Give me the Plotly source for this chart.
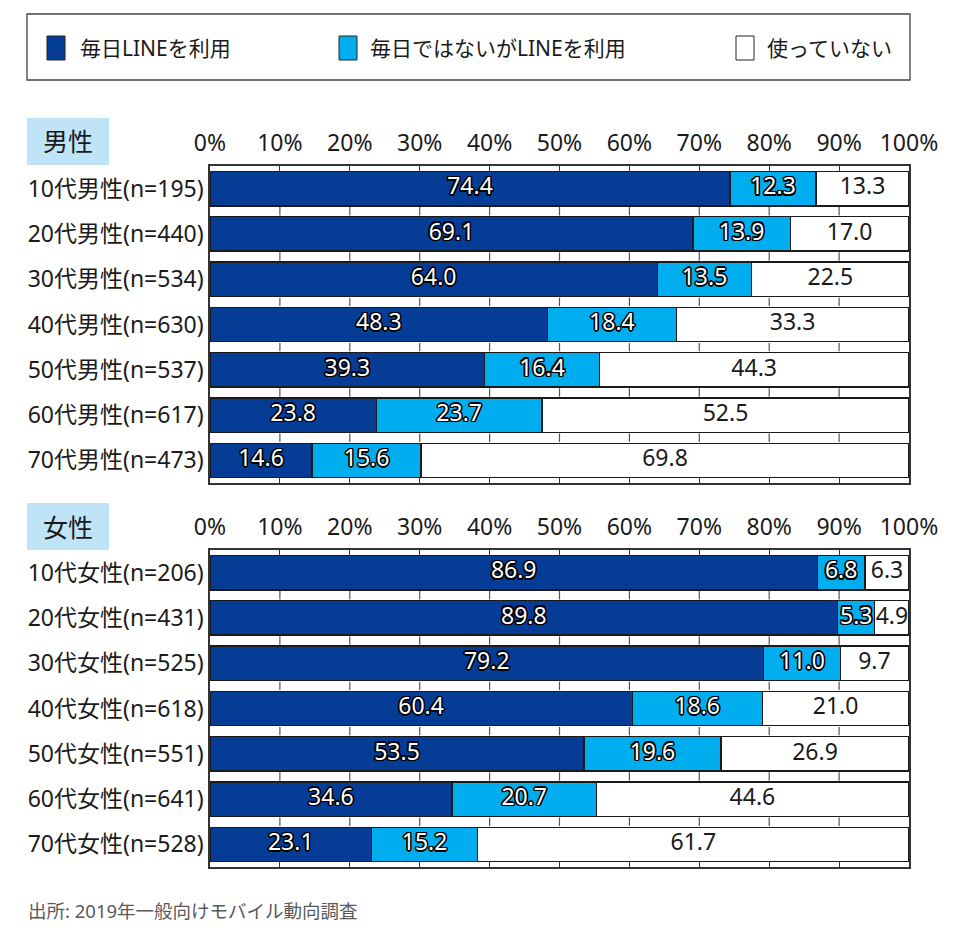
import plotly.graph_objects as go

# ---------------- data ----------------
series_names = ["毎日LINEを利用", "毎日ではないがLINEを利用", "使っていない"]
male_labels = ["10代男性(n=195)", "20代男性(n=440)", "30代男性(n=534)", "40代男性(n=630)",
               "50代男性(n=537)", "60代男性(n=617)", "70代男性(n=473)"]
male_daily = [74.4, 69.1, 64.0, 48.3, 39.3, 23.8, 14.6]
male_notdaily = [12.3, 13.9, 13.5, 18.4, 16.4, 23.7, 15.6]
male_none = [13.3, 17.0, 22.5, 33.3, 44.3, 52.5, 69.8]

female_labels = ["10代女性(n=206)", "20代女性(n=431)", "30代女性(n=525)", "40代女性(n=618)",
                 "50代女性(n=551)", "60代女性(n=641)", "70代女性(n=528)"]
female_daily = [86.9, 89.8, 79.2, 60.4, 53.5, 34.6, 23.1]
female_notdaily = [6.8, 5.3, 11.0, 18.6, 19.6, 20.7, 15.2]
female_none = [6.3, 4.9, 9.7, 21.0, 26.9, 44.6, 61.7]

x_ticks = [0, 10, 20, 30, 40, 50, 60, 70, 80, 90, 100]
panel_titles = ["男性", "女性"]
source_text = "出所: 2019年一般向けモバイル動向調査"

# ---------------- style ----------------
W, H = 960, 931
OFF = 8  # page body margin compensation
FONT = "Noto Sans, Noto Sans CJK JP, sans-serif"
C_DARK = "#043c96"
C_LIGHT = "#00aeef"
C_WHITE = "#ffffff"
colors = [C_DARK, C_LIGHT, C_WHITE]
OUTLINE = ("-1.2px -1.2px 0 #000, 1.2px -1.2px 0 #000, -1.2px 1.2px 0 #000, 1.2px 1.2px 0 #000,"
           " 0 -1.6px 0 #000, 0 1.6px 0 #000, -1.6px 0 0 #000, 1.6px 0 0 #000")

def px_x(p):
    return (p - OFF) / W

def px_y(p):
    return 1 - (p - OFF) / H

fig = go.Figure()

panels = [
    ("x", "y", male_labels, [male_daily, male_notdaily, male_none]),
    ("x2", "y2", female_labels, [female_daily, female_notdaily, female_none]),
]

for xa, ya, labels, vals in panels:
    idx = list(range(len(labels)))
    for s, (name, col, v) in enumerate(zip(series_names, colors, vals)):
        fig.add_trace(go.Bar(
            x=v, y=idx, orientation="h", name=name, xaxis=xa, yaxis=ya,
            marker=dict(color=col, line=dict(color="#1a1a1a", width=1.3)),
            width=0.76, showlegend=False, hoverinfo="skip",
        ))
    # labels at segment centers
    for s, v in enumerate(vals):
        base = [sum(vals[k][i] for k in range(s)) for i in idx]
        cx = [b + val / 2 for b, val in zip(base, v)]
        if s < 2:
            tf = dict(family=FONT, size=23, color="white", shadow=OUTLINE)
        else:
            tf = dict(family=FONT, size=23, color="#1a1a1a")
        fig.add_trace(go.Scatter(
            x=cx, y=idx, mode="text", text=[f"{val:.1f}" for val in v],
            textposition="middle center", textfont=tf, xaxis=xa, yaxis=ya,
            showlegend=False, hoverinfo="skip", cliponaxis=False,
        ))
    # tick marks in the gaps between rows
    bx, by = [], []
    for b in idx[:-1]:
        for t in x_ticks[1:-1]:
            bx.append(t)
            by.append(b + 0.5)
    fig.add_trace(go.Scatter(
        x=bx, y=by, mode="markers", xaxis=xa, yaxis=ya,
        marker=dict(symbol="line-ns", size=6, line=dict(color="#555555", width=1.2)),
        showlegend=False, hoverinfo="skip", cliponaxis=False,
    ))

xdom = [px_x(210), px_x(909)]
common_x = dict(
    range=[0, 100], tickvals=x_ticks, ticktext=[f"{t}%" for t in x_ticks],
    side="top", showgrid=False, zeroline=False, showline=True, mirror="ticks",
    linecolor="#333333", linewidth=1.5, ticks="inside", ticklen=6, tickcolor="#333333",
    tickfont=dict(family=FONT, size=23, color="#1a1a1a"), domain=xdom, fixedrange=True,
    ticklabelstandoff=4, automargin=False,
)
common_y = dict(
    range=[6.5, -0.5], showgrid=False, zeroline=False, showline=True, mirror=True,
    linecolor="#333333", linewidth=1.5, ticks="", tickvals=list(range(7)),
    tickfont=dict(family=FONT, size=23, color="#1a1a1a"), fixedrange=True,
    automargin=False,
)

fig.update_layout(
    width=W, height=H, autosize=False,
    margin=dict(l=0, r=0, t=0, b=0, pad=0, autoexpand=False),
    paper_bgcolor="white", plot_bgcolor="white",
    barmode="stack", bargap=0.24, showlegend=False,
    xaxis=dict(**common_x, anchor="y"),
    xaxis2=dict(**common_x, anchor="y2"),
    yaxis=dict(**common_y, anchor="x", ticktext=male_labels,
               domain=[px_y(483), px_y(166)]),
    yaxis2=dict(**common_y, anchor="x2", ticktext=female_labels,
                domain=[px_y(867), px_y(550)]),
)

shapes = []
annotations = []

# legend box
shapes.append(dict(type="rect", xref="paper", yref="paper",
                   x0=px_x(27), x1=px_x(910), y0=px_y(80), y1=px_y(14),
                   line=dict(color="#444444", width=1.3), fillcolor="white"))
legend_items = [(47, 78), (339, 368), (736, 765)]
for (sq_x, tx), name, col in zip(legend_items, series_names, colors):
    shapes.append(dict(type="rect", xref="paper", yref="paper",
                       x0=px_x(sq_x), x1=px_x(sq_x + 18), y0=px_y(60), y1=px_y(36),
                       line=dict(color="#222222", width=1), fillcolor=col))
    annotations.append(dict(xref="paper", yref="paper", x=px_x(tx), y=px_y(48),
                            xanchor="left", yanchor="middle", text=name, showarrow=False,
                            font=dict(family=FONT, size=21, color="#1a1a1a")))

# panel titles
for title, top in zip(panel_titles, [118, 503]):
    shapes.append(dict(type="rect", xref="paper", yref="paper",
                       x0=px_x(27), x1=px_x(109), y0=px_y(top + 47), y1=px_y(top),
                       line=dict(width=0), fillcolor="#bfe4f8"))
    annotations.append(dict(xref="paper", yref="paper", x=px_x(68), y=px_y(top + 23.5),
                            xanchor="center", yanchor="middle", text=title, showarrow=False,
                            font=dict(family=FONT, size=25, color="#1a1a1a")))

# source
annotations.append(dict(xref="paper", yref="paper", x=px_x(26), y=px_y(910),
                        xanchor="left", yanchor="middle", text=source_text, showarrow=False,
                        font=dict(family=FONT, size=18.5, color="#595959")))

fig.update_layout(shapes=shapes, annotations=annotations)
fig.write_html("out.html")
